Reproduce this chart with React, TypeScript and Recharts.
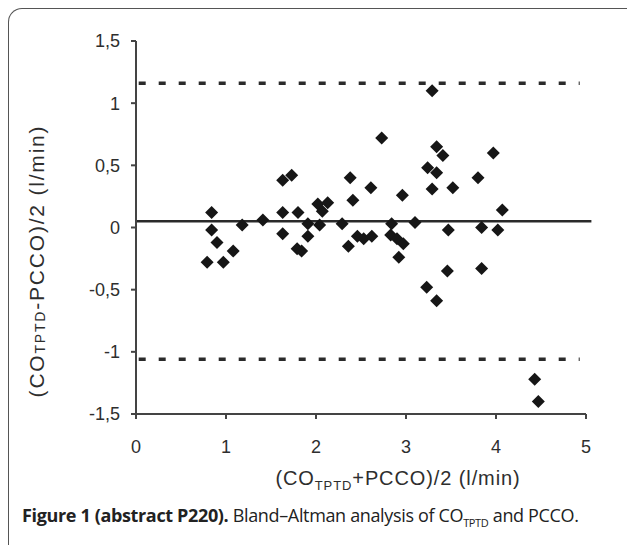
import React from "react";
import { ScatterChart, Scatter, XAxis, YAxis, ReferenceLine, Label } from "recharts";

// (CO_TPTD + PCCO)/2, l/min
const meanCO = [
  0.79, 0.97, 0.84, 0.84, 0.9, 1.08, 1.18, 1.41, 1.63, 1.73, 1.63, 1.63, 1.8, 1.79,
  1.84, 1.91, 1.91, 2.02, 2.13, 2.07, 2.04, 2.29, 2.38, 2.41, 2.36, 2.46, 2.53, 2.62,
  2.61, 2.73, 2.84, 2.83, 2.96, 2.9, 2.97, 2.92, 3.1, 3.23, 3.34, 3.29, 3.34, 3.41,
  3.24, 3.34, 3.29, 3.52, 3.47, 3.46, 3.8, 3.84, 3.84, 3.97, 4.02, 4.07, 4.43, 4.47,
];
// (CO_TPTD - PCCO)/2, l/min
const diffCO = [
  -0.28, -0.28, 0.12, -0.02, -0.12, -0.19, 0.02, 0.06, 0.38, 0.42, 0.12, -0.05, 0.12, -0.17,
  -0.19, 0.03, -0.07, 0.19, 0.2, 0.13, 0.02, 0.03, 0.4, 0.22, -0.15, -0.07, -0.09, -0.07,
  0.32, 0.72, 0.03, -0.06, 0.26, -0.09, -0.13, -0.24, 0.04, -0.48, -0.59, 1.1, 0.65, 0.58,
  0.48, 0.44, 0.31, 0.32, -0.02, -0.35, 0.4, 0.0, -0.33, 0.6, -0.02, 0.14, -1.22, -1.4,
];

const xTicks = [0, 1, 2, 3, 4, 5];
const yTicks = [-1.5, -1, -0.5, 0, 0.5, 1, 1.5];

const bias = 0.05;
const upperLimit = 1.16;
const lowerLimit = -1.06;

const points = meanCO.map((x, i) => ({ x, y: diffCO[i] }));

const ink = "#2e2e2e";
const font = "'Liberation Sans', Arial, sans-serif";

const fmt = (v: number) => String(v).replace(".", ",");

const Diamond = (props: any) => {
  const { cx, cy } = props;
  const r = 6.5;
  return (
    <polygon
      points={`${cx},${cy - r} ${cx + r},${cy} ${cx},${cy + r} ${cx - r},${cy}`}
      fill="#161616"
    />
  );
};

const XLabel = () => (
  <text
    x={398}
    y={485}
    textAnchor="middle"
    fontSize={20}
    letterSpacing={0.9}
    fill={ink}
    fontFamily={font}
  >
    (CO
    <tspan fontSize={13} dy={5}>TPTD</tspan>
    <tspan dy={-5}>+PCCO)/2 (l/min)</tspan>
  </text>
);

const YLabel = () => (
  <text
    x={0}
    y={0}
    transform="translate(44,261) rotate(-90)"
    textAnchor="middle"
    fontSize={21}
    letterSpacing={1.8}
    fill={ink}
    fontFamily={font}
  >
    (CO
    <tspan fontSize={14} dy={1}>TPTD</tspan>
    <tspan dy={-1}>-PCCO)/2 (l/min)</tspan>
  </text>
);

export default function App() {
  return (
    <div
      style={{
        position: "absolute",
        left: 0,
        top: 0,
        width: 627,
        height: 545,
        background: "#fff",
        overflow: "hidden",
      }}
    >
      <div
        style={{
          position: "absolute",
          left: 8,
          top: 8,
          width: 640,
          height: 560,
          borderTop: "1px solid #555",
          borderLeft: "1px solid #555",
          borderTopLeftRadius: 14,
        }}
      />
      <div style={{ position: "absolute", left: 0, top: 0 }}>
        <ScatterChart width={627} height={545} margin={{ top: 41, right: 41, bottom: 101, left: 56 }}>
          <XAxis
            type="number"
            dataKey="x"
            domain={[0, 5]}
            ticks={xTicks}
            height={30}
            axisLine={{ stroke: "#444", strokeWidth: 2 }}
            tickLine={{ stroke: "#444", strokeWidth: 2 }}
            tickSize={5}
            tickMargin={21}
            tick={{ fontSize: 18, fill: ink, fontFamily: font }}
            allowDataOverflow
          >
            <Label content={() => <XLabel />} />
          </XAxis>
          <YAxis
            type="number"
            dataKey="y"
            domain={[-1.5, 1.5]}
            ticks={yTicks}
            width={80}
            tickFormatter={fmt}
            axisLine={{ stroke: "#444", strokeWidth: 2 }}
            tickLine={{ stroke: "#444", strokeWidth: 2 }}
            tickSize={5}
            tickMargin={11}
            tick={{ fontSize: 18, fill: ink, fontFamily: font }}
            allowDataOverflow
          >
            <Label content={() => <YLabel />} />
          </YAxis>
          <ReferenceLine
            segment={[
              { x: 0.03, y: upperLimit },
              { x: 4.93, y: upperLimit },
            ]}
            stroke="#2a2a2a"
            strokeWidth={3.5}
            strokeDasharray="7 13"
            ifOverflow="visible"
          />
          <ReferenceLine
            segment={[
              { x: 0.03, y: lowerLimit },
              { x: 4.93, y: lowerLimit },
            ]}
            stroke="#2a2a2a"
            strokeWidth={3.5}
            strokeDasharray="7 13"
            ifOverflow="visible"
          />
          <ReferenceLine
            segment={[
              { x: 0, y: bias },
              { x: 5.06, y: bias },
            ]}
            stroke="#2a2a2a"
            strokeWidth={2.5}
            ifOverflow="visible"
          />
          <Scatter data={points} shape={<Diamond />} isAnimationActive={false} />
        </ScatterChart>
      </div>
      <div
        style={{
          position: "absolute",
          left: 22,
          top: 503,
          fontFamily: "'Open Sans', sans-serif",
          fontSize: 18,
          color: "#222",
          whiteSpace: "nowrap",
          letterSpacing: -0.35,
        }}
      >
        <b>Figure 1 (abstract P220).</b> Bland–Altman analysis of CO
        <sub style={{ fontSize: 11 }}>TPTD</sub> and PCCO.
      </div>
    </div>
  );
}
